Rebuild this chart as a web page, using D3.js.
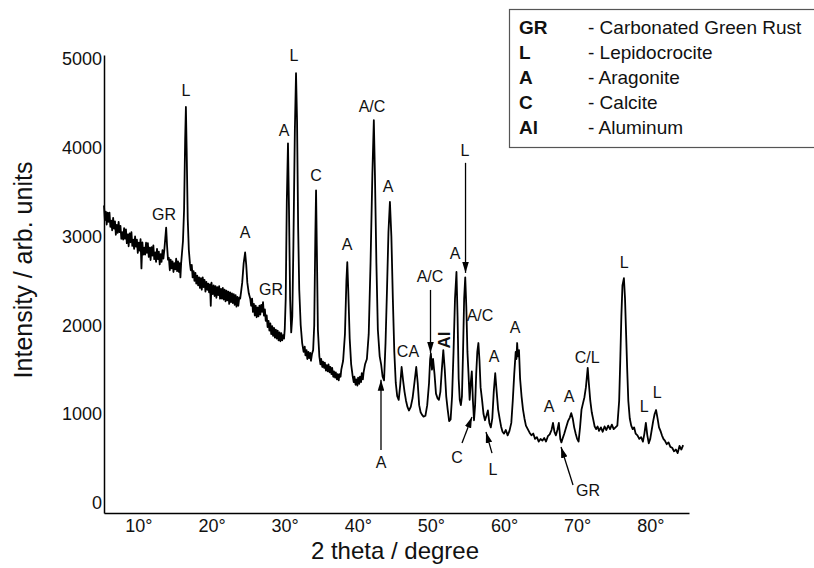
<!DOCTYPE html>
<html>
<head>
<meta charset="utf-8">
<script src="https://cdn.jsdelivr.net/npm/d3@7"></script>
<style>
  body { margin: 0; background: #fff; }
  svg { display: block; font-family: "Liberation Sans", Arial, sans-serif; }
</style>
</head>
<body>
<svg id="chart"></svg>
<script>
// XRD scan: [2 theta (deg), intensity]
const scan = [
  [5.3,3350],[5.42,3185],[5.55,3280],[5.67,3135],[5.8,3270],[5.92,3165],[6.05,3270],[6.17,3110],
  [6.3,3180],[6.42,3070],[6.55,3210],[6.67,3090],[6.8,3170],[6.92,3020],[7.05,3130],[7.17,3040],
  [7.3,3165],[7.42,3050],[7.55,3120],[7.67,2975],[7.8,3050],[7.92,2965],[8.05,3095],[8.17,2975],
  [8.3,3080],[8.42,2925],[8.55,3025],[8.67,2890],[8.8,3035],[8.92,2935],[9.05,3050],[9.17,2895],
  [9.3,2965],[9.42,2860],[9.55,3000],[9.67,2885],[9.8,2965],[9.92,2815],[10.05,2930],[10.17,2840],
  [10.3,2970],[10.42,2640],[10.55,2935],[10.67,2795],[10.8,2875],[10.92,2795],[11.05,2930],[11.17,2815],
  [11.3,2925],[11.42,2770],[11.55,2875],[11.67,2735],[11.8,2880],[11.92,2785],[12.05,2900],[12.17,2745],
  [12.3,2820],[12.42,2715],[12.55,2860],[12.67,2745],[12.8,2830],[12.92,2685],[13.05,2800],[13.17,2715],
  [13.3,2845],[13.42,2750],[13.55,2850],[13.68,2980],[13.8,3100],[13.92,2900],[14.05,2740],[14.17,2760],
  [14.3,2620],[14.42,2740],[14.55,2640],[14.67,2720],[14.8,2600],[14.92,2700],[15.05,2630],[15.17,2750],
  [15.3,2610],[15.42,2720],[15.55,2600],[15.67,2700],[15.75,2540],[15.85,2700],[15.95,2800],[16.1,2950],
  [16.25,3300],[16.4,4100],[16.5,4460],[16.6,4000],[16.75,3200],[16.9,2850],[17.05,2700],[17.17,2620],
  [17.3,2680],[17.42,2540],[17.55,2610],[17.67,2500],[17.8,2590],[17.92,2470],[18.05,2560],[18.17,2450],
  [18.3,2540],[18.42,2420],[18.55,2530],[18.67,2400],[18.8,2540],[18.92,2430],[19.05,2510],[19.17,2380],
  [19.3,2490],[19.42,2400],[19.55,2470],[19.67,2370],[19.8,2460],[19.9,2220],[20.0,2480],[20.17,2350],
  [20.3,2450],[20.42,2330],[20.55,2440],[20.67,2310],[20.8,2430],[20.92,2340],[21.05,2440],[21.17,2300],
  [21.3,2410],[21.42,2300],[21.55,2420],[21.67,2290],[21.8,2400],[21.92,2270],[22.05,2390],[22.17,2280],
  [22.3,2380],[22.42,2240],[22.55,2370],[22.67,2260],[22.8,2360],[22.92,2250],[23.05,2350],[23.17,2230],
  [23.3,2340],[23.42,2210],[23.55,2320],[23.67,2220],[23.8,2310],[23.92,2300],[24.05,2380],[24.2,2480],
  [24.4,2700],[24.6,2820],[24.75,2680],[24.9,2480],[25.1,2360],[25.3,2300],[25.42,2220],[25.55,2300],
  [25.67,2150],[25.8,2240],[25.92,2110],[26.05,2220],[26.17,2090],[26.3,2200],[26.42,2100],[26.55,2220],
  [26.67,2120],[26.8,2230],[26.92,2150],[27.05,2260],[27.17,2110],[27.3,2180],[27.42,2050],[27.55,2110],
  [27.67,1980],[27.8,2050],[27.92,1940],[28.05,2020],[28.17,1900],[28.3,1990],[28.42,1880],[28.55,1970],
  [28.67,1860],[28.8,1950],[28.92,1850],[29.05,1940],[29.17,1830],[29.3,1920],[29.42,1820],[29.55,1910],
  [29.67,1830],[29.8,1890],[29.92,1850],[30.02,1960],[30.15,2300],[30.3,3400],[30.46,4050],[30.6,3300],
  [30.75,2300],[30.9,1920],[31.05,2100],[31.2,2900],[31.4,4200],[31.56,4840],[31.7,4300],[31.85,3100],
  [32.0,2400],[32.2,2000],[32.4,1800],[32.6,1700],[32.75,1760],[32.85,1660],[33.0,1720],[33.1,1620],
  [33.25,1700],[33.35,1630],[33.5,1690],[33.6,1600],[33.75,1680],[33.9,1720],[34.05,2000],[34.2,3000],
  [34.3,3520],[34.4,2900],[34.55,1950],[34.75,1650],[34.9,1560],[35.0,1620],[35.15,1530],[35.25,1590],
  [35.4,1520],[35.5,1580],[35.65,1490],[35.75,1550],[35.9,1480],[36.0,1560],[36.15,1470],[36.25,1530],
  [36.4,1450],[36.5,1520],[36.65,1420],[36.75,1480],[36.9,1410],[37.0,1470],[37.15,1390],[37.25,1450],
  [37.4,1380],[37.5,1450],[37.65,1420],[37.75,1500],[38.0,1600],[38.25,1900],[38.45,2500],[38.57,2710],
  [38.7,2400],[38.9,1850],[39.1,1560],[39.3,1430],[39.45,1360],[39.55,1420],[39.7,1330],[39.8,1390],
  [39.95,1320],[40.05,1410],[40.2,1340],[40.3,1420],[40.45,1360],[40.55,1460],[40.7,1390],[40.8,1470],
  [41.0,1560],[41.25,1620],[41.5,1900],[41.75,2700],[42.0,3700],[42.2,4310],[42.35,3700],[42.55,2700],
  [42.75,1950],[43.0,1650],[43.2,1560],[43.4,1420],[43.6,1380],[43.8,1800],[44.0,2400],[44.2,3050],
  [44.4,3390],[44.6,3000],[44.8,2300],[45.0,1700],[45.2,1350],[45.4,1200],[45.6,1160],[45.8,1320],
  [46.0,1530],[46.2,1380],[46.4,1250],[46.6,1150],[46.8,1080],[47.0,1040],[47.25,1080],[47.5,1180],
  [47.75,1350],[48.0,1530],[48.2,1350],[48.4,1100],[48.6,1020],[48.8,990],[49.0,970],[49.25,980],
  [49.5,1100],[49.75,1350],[49.9,1620],[50.0,1680],[50.15,1500],[50.3,1620],[50.5,1450],[50.7,1230],
  [50.9,1180],[51.1,1160],[51.3,1250],[51.5,1500],[51.7,1720],[51.9,1500],[52.1,1200],[52.3,1050],
  [52.5,920],[52.7,940],[52.9,1200],[53.1,1700],[53.3,2300],[53.5,2600],[53.65,2100],[53.8,1400],
  [53.95,1160],[54.1,1100],[54.25,1200],[54.4,1700],[54.55,2300],[54.7,2540],[54.85,2200],[55.0,1700],
  [55.15,1450],[55.3,1160],[55.45,1350],[55.6,1480],[55.75,1150],[55.9,930],[56.05,1100],[56.2,1450],
  [56.35,1700],[56.5,1800],[56.65,1600],[56.8,1300],[57.0,1160],[57.2,1000],[57.4,930],[57.6,980],
  [57.8,1040],[58.0,900],[58.2,850],[58.4,950],[58.6,1250],[58.8,1460],[59.0,1250],[59.2,1050],
  [59.4,950],[59.6,860],[59.8,800],[60.0,780],[60.25,820],[60.5,760],[60.75,810],[61.0,900],
  [61.2,1150],[61.4,1450],[61.6,1700],[61.7,1620],[61.8,1800],[61.9,1650],[62.05,1720],[62.2,1400],
  [62.4,1200],[62.6,1050],[62.8,950],[63.0,870],[63.25,830],[63.5,790],[63.75,760],[64.0,780],
  [64.25,720],[64.5,740],[64.75,690],[65.0,720],[65.25,700],[65.5,730],[65.75,690],[66.0,750],
  [66.25,770],[66.5,820],[66.7,900],[66.9,800],[67.1,760],[67.3,820],[67.5,900],[67.7,720],
  [67.85,680],[68.0,720],[68.25,780],[68.5,850],[68.75,920],[69.0,960],[69.2,1010],[69.4,950],
  [69.6,850],[69.8,780],[70.0,720],[70.2,690],[70.4,850],[70.6,1050],[70.8,1120],[71.0,1190],
  [71.2,1300],[71.45,1520],[71.6,1350],[71.8,1150],[72.0,1020],[72.2,940],[72.4,860],[72.6,830],
  [72.8,860],[73.0,810],[73.25,850],[73.5,800],[73.75,860],[74.0,820],[74.25,870],[74.5,830],
  [74.75,880],[75.0,830],[75.25,850],[75.5,870],[75.75,1150],[75.9,1600],[76.05,2100],[76.2,2450],
  [76.4,2530],[76.55,2300],[76.7,1900],[76.85,1500],[77.0,1150],[77.2,950],[77.4,870],[77.6,830],
  [77.8,850],[78.0,780],[78.25,760],[78.5,720],[78.75,740],[79.0,690],[79.2,780],[79.4,900],
  [79.6,760],[79.8,670],[80.0,720],[80.2,820],[80.4,920],[80.6,1000],[80.8,1045],[81.0,950],
  [81.2,850],[81.4,810],[81.6,760],[81.8,720],[82.0,700],[82.25,660],[82.5,680],[82.75,630],
  [83.0,620],[83.25,580],[83.5,600],[83.75,560],[84.0,640],[84.25,600],[84.5,650]
];

const xTicks = [10, 20, 30, 40, 50, 60, 70, 80];
const yTicks = [0, 1000, 2000, 3000, 4000, 5000];

// peak labels: text, 2 theta, intensity where the label sits
const peakLabels = [
  ["GR", 13.5, 3243], ["L", 16.51, 4640], ["A", 24.58, 3040], ["GR", 28.14, 2398],
  ["A", 29.92, 4190], ["L", 31.28, 5035], ["C", 34.29, 3683], ["A", 38.53, 2905],
  ["A/C", 41.95, 4460], ["A", 44.14, 3560], ["CA", 46.87, 1700], ["A/C", 49.88, 2545],
  ["A", 53.3, 2804], ["L", 54.67, 3973], ["A/C", 56.72, 2105], ["A", 58.64, 1643],
  ["A", 61.51, 1970], ["A", 66.16, 1080], ["A", 68.9, 1192], ["C/L", 71.37, 1632],
  ["L", 76.43, 2702], ["L", 79.17, 1080], ["L", 80.95, 1237],
  ["A", 43.18, 449], ["C", 53.57, 505], ["L", 58.5, 370], ["GR", 71.49, 144]
];
const boldLabel = ["Al", 51.93, 1835];

// arrows: from [2theta, I] to [2theta, I]
const arrows = [
  [[49.95, 2398], [49.95, 1688]],
  [[54.74, 3830], [54.74, 2590]],
  [[43.18, 594], [43.18, 1385]],
  [[54.26, 674], [55.62, 967]],
  [[58.36, 560], [57.54, 797]],
  [[69.44, 200], [67.8, 629]]
];

const legendCodes = ["GR", "L", "A", "C", "Al"];
const legendNames = ["- Carbonated Green Rust", "- Lepidocrocite", "- Aragonite", "- Calcite", "- Aluminum"];

class XrdChart {
  constructor(config) {
    this.config = {
      parent: config.parent,
      width: config.width || 814,
      height: config.height || 568
    };
    this.init();
  }

  init() {
    let self = this;
    self.svg = d3.select(self.config.parent)
      .attr('width', self.config.width)
      .attr('height', self.config.height);

    self.xscale = d3.scaleLinear().domain([5.3, 85.3]).range([104, 689]);
    self.yscale = d3.scaleLinear().domain([-115, 5045]).range([513, 55]);

    self.svg.append('defs').append('marker')
      .attr('id', 'head')
      .attr('markerUnits', 'userSpaceOnUse')
      .attr('viewBox', '0 0 10 6')
      .attr('markerWidth', 11)
      .attr('markerHeight', 7)
      .attr('refX', 10)
      .attr('refY', 3)
      .attr('orient', 'auto')
      .append('path')
      .attr('d', 'M0,0 L10,3 L0,6 z')
      .attr('fill', '#000');
  }

  render() {
    let self = this;
    const x = self.xscale, y = self.yscale;

    const line = d3.line().x(d => x(d[0])).y(d => y(d[1]));
    self.svg.append('path')
      .attr('d', line(scan))
      .attr('fill', 'none')
      .attr('stroke', '#000')
      .attr('stroke-width', 1.8)
      .attr('stroke-linejoin', 'round');

    const xaxis = d3.axisBottom(x).tickValues(xTicks).tickSize(0).tickPadding(6)
      .tickFormat(d => d + '°');
    const yaxis = d3.axisLeft(y).tickValues(yTicks).tickSize(0).tickPadding(2)
      .tickFormat(d3.format('d'));

    const gx = self.svg.append('g').attr('transform', 'translate(0,513)').call(xaxis);
    const gy = self.svg.append('g').attr('transform', 'translate(104,0)').call(yaxis);
    [gx, gy].forEach(g => {
      g.select('.domain').attr('stroke', '#000').attr('stroke-width', 1.5);
      g.selectAll('text').attr('font-size', 18).attr('fill', '#111')
        .attr('font-family', '"Liberation Sans", Arial, sans-serif');
    });

    self.svg.append('text')
      .attr('x', 395).attr('y', 559)
      .attr('text-anchor', 'middle')
      .attr('font-size', 24).attr('fill', '#111')
      .text('2 theta / degree');

    self.svg.append('text')
      .attr('transform', 'translate(32,270) rotate(-90)')
      .attr('text-anchor', 'middle')
      .attr('font-size', 25).attr('fill', '#111')
      .text('Intensity / arb. units');

    self.svg.selectAll('.plabel').data(peakLabels).join('text')
      .attr('class', 'plabel')
      .attr('x', d => x(d[1])).attr('y', d => y(d[2]))
      .attr('text-anchor', 'middle')
      .attr('dominant-baseline', 'central')
      .attr('font-size', 16).attr('fill', '#111')
      .text(d => d[0]);

    self.svg.append('text')
      .attr('transform', `translate(${x(boldLabel[1])},${y(boldLabel[2])}) rotate(-90)`)
      .attr('text-anchor', 'middle')
      .attr('dominant-baseline', 'central')
      .attr('font-size', 17).attr('font-weight', 'bold').attr('fill', '#111')
      .text(boldLabel[0]);

    self.svg.selectAll('.arrow').data(arrows).join('line')
      .attr('class', 'arrow')
      .attr('x1', d => x(d[0][0])).attr('y1', d => y(d[0][1]))
      .attr('x2', d => x(d[1][0])).attr('y2', d => y(d[1][1]))
      .attr('stroke', '#000').attr('stroke-width', 1.3)
      .attr('marker-end', 'url(#head)');

    // legend
    const lg = self.svg.append('g');
    lg.append('rect')
      .attr('x', 509.5).attr('y', 9.5).attr('width', 330).attr('height', 138)
      .attr('fill', '#fff').attr('stroke', '#555').attr('stroke-width', 1.2);
    legendCodes.forEach((c, i) => {
      const cy = 27 + i * 25;
      lg.append('text').attr('x', 519).attr('y', cy)
        .attr('dominant-baseline', 'central')
        .attr('font-size', 19).attr('font-weight', 'bold').attr('fill', '#111')
        .text(c);
      lg.append('text').attr('x', 588).attr('y', cy)
        .attr('dominant-baseline', 'central')
        .attr('font-size', 19).attr('fill', '#111')
        .text(legendNames[i]);
    });
  }
}

const chart = new XrdChart({ parent: '#chart', width: 814, height: 568 });
chart.render();
</script>
</body>
</html>
